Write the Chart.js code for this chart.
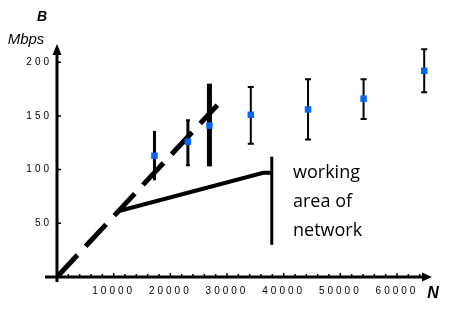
<!DOCTYPE html>
<html>
<head>
<meta charset="utf-8">
<script src="https://cdn.jsdelivr.net/npm/chart.js@4.4.1/dist/chart.umd.min.js"></script>
<style>
  html, body { margin: 0; padding: 0; background: #fff; }
  #wrap { width: 455px; height: 314px; position: relative; }
</style>
</head>
<body>
<div id="wrap"><canvas id="chart"></canvas></div>
<script>
// measured throughput vs number of nodes
const nodes = [17200, 23100, 26900, 34200, 44300, 54100, 64800];
const bandwidth = [113, 126, 141, 151, 156, 166, 192];
const bandLow = [90, 104, 103, 124, 128, 147, 172];
const bandHigh = [136, 146, 180, 177, 184, 184, 212];

// model lines
const idealLine = [{ x: 0, y: 0 }, { x: 28300, y: 160 }];
const realLine = [{ x: 10600, y: 61 }, { x: 36400, y: 97 }, { x: 37900, y: 97 }];
const limitLine = [{ x: 37900, y: 30 }, { x: 37900, y: 112 }];

const xTicks = [10000, 20000, 30000, 40000, 50000, 60000];
const yTicks = [50, 100, 150, 200];
const noteLines = ["working", "area of", "network"];

const errWidth = [3, 3, 5, 2, 2, 2, 2];
const errCap = [0, 4, 0, 6, 6, 6, 6];

const decor = {
  id: "decor",
  beforeDraw(chart) {
    chart.ctx.letterSpacing = "3px";
  },
  beforeDatasetsDraw(chart) {
    const ctx = chart.ctx;
    const xs = chart.scales.x, ys = chart.scales.y;
    ctx.save();
    ctx.strokeStyle = "#000";
    // error bars
    nodes.forEach((n, i) => {
      const px = xs.getPixelForValue(n);
      const top = ys.getPixelForValue(bandHigh[i]);
      const bot = ys.getPixelForValue(bandLow[i]);
      ctx.lineWidth = errWidth[i];
      ctx.beginPath();
      ctx.moveTo(px, top);
      ctx.lineTo(px, bot);
      ctx.stroke();
      if (errCap[i]) {
        ctx.lineWidth = 2;
        ctx.beginPath();
        ctx.moveTo(px - errCap[i] / 2, top); ctx.lineTo(px + errCap[i] / 2, top);
        ctx.moveTo(px - errCap[i] / 2, bot); ctx.lineTo(px + errCap[i] / 2, bot);
        ctx.stroke();
      }
    });
    ctx.restore();
  },
  afterDraw(chart) {
    const ctx = chart.ctx;
    const xs = chart.scales.x, ys = chart.scales.y;
    ctx.save();
    ctx.letterSpacing = "0px";
    ctx.strokeStyle = "#000";
    ctx.fillStyle = "#000";

    // axes with arrows
    const x0 = xs.getPixelForValue(0), y0 = ys.getPixelForValue(0);
    ctx.lineWidth = 3;
    ctx.beginPath();
    ctx.moveTo(x0 - 12, y0); ctx.lineTo(xs.right - 6, y0);
    ctx.moveTo(x0, y0 + 5); ctx.lineTo(x0, ys.top + 6);
    ctx.stroke();
    ctx.beginPath();
    ctx.moveTo(xs.right + 1, y0); ctx.lineTo(xs.right - 9, y0 - 4.5); ctx.lineTo(xs.right - 9, y0 + 4.5);
    ctx.closePath();
    ctx.moveTo(x0, ys.top - 1); ctx.lineTo(x0 - 4.5, ys.top + 10); ctx.lineTo(x0 + 4.5, ys.top + 10);
    ctx.closePath();
    ctx.fill();

    // tick marks
    ctx.lineWidth = 1.5;
    ctx.beginPath();
    for (let v = 2000; v <= 64000; v += 2000) {
      const px = xs.getPixelForValue(v);
      const len = v % 10000 === 0 ? 4 : 3;
      ctx.moveTo(px, y0); ctx.lineTo(px, y0 - len);
    }
    yTicks.forEach(v => {
      const py = ys.getPixelForValue(v);
      ctx.moveTo(x0, py); ctx.lineTo(x0 + 4, py);
    });
    ctx.stroke();

    // axis titles
    ctx.font = "bold italic 14px 'Liberation Sans', Arial, sans-serif";
    ctx.textAlign = "center";
    ctx.textBaseline = "alphabetic";
    ctx.fillText("B", 42, 21);
    ctx.font = "italic 15px 'Liberation Sans', Arial, sans-serif";
    ctx.fillText("Mbps", 26, 44);
    ctx.font = "bold italic 16px 'Liberation Sans', Arial, sans-serif";
    ctx.fillText("N", 433, 298);

    // note
    ctx.font = "18px 'Open Sans', 'Noto Sans', sans-serif";
    ctx.textAlign = "left";
    noteLines.forEach((t, i) => ctx.fillText(t, 293, 178 + i * 29));
    ctx.restore();
  }
};

new Chart(document.getElementById("chart"), {
  type: "scatter",
  data: {
    datasets: [
      {
        data: idealLine,
        showLine: true,
        borderColor: "#000",
        borderWidth: 5,
        borderDash: [30, 12],
        pointRadius: 0
      },
      {
        data: realLine,
        showLine: true,
        borderColor: "#000",
        borderWidth: 4,
        pointRadius: 0
      },
      {
        data: limitLine,
        showLine: true,
        borderColor: "#000",
        borderWidth: 3,
        pointRadius: 0
      },
      {
        data: nodes.map((n, i) => ({ x: n, y: bandwidth[i] })),
        pointStyle: "rect",
        pointRadius: 4.6,
        backgroundColor: "#0a66f2",
        borderWidth: 0,
        order: -1
      }
    ]
  },
  options: {
    responsive: true,
    maintainAspectRatio: false,
    animation: false,
    layout: { padding: { top: 45, right: 24, left: 0, bottom: 0 } },
    plugins: { legend: { display: false }, tooltip: { enabled: false } },
    scales: {
      x: {
        type: "linear",
        min: 0,
        max: 66000,
        afterBuildTicks: s => { s.ticks = xTicks.map(v => ({ value: v })); },
        afterFit: s => { s.height = 37; },
        grid: { display: false, drawTicks: false },
        border: { display: false },
        ticks: {
          autoSkip: false,
          maxRotation: 0,
          padding: 8,
          color: "#000",
          callback: v => String(v),
          font: { family: "'Liberation Sans', Arial, sans-serif", size: 10 }
        }
      },
      y: {
        type: "linear",
        min: 0,
        max: 216,
        afterBuildTicks: s => { s.ticks = yTicks.map(v => ({ value: v })); },
        afterFit: s => { s.width = 57; },
        grid: { display: false, drawTicks: false },
        border: { display: false },
        ticks: {
          padding: 5,
          color: "#000",
          callback: v => String(v),
          font: { family: "'Liberation Sans', Arial, sans-serif", size: 10 }
        }
      }
    }
  },
  plugins: [decor]
});
</script>
</body>
</html>
